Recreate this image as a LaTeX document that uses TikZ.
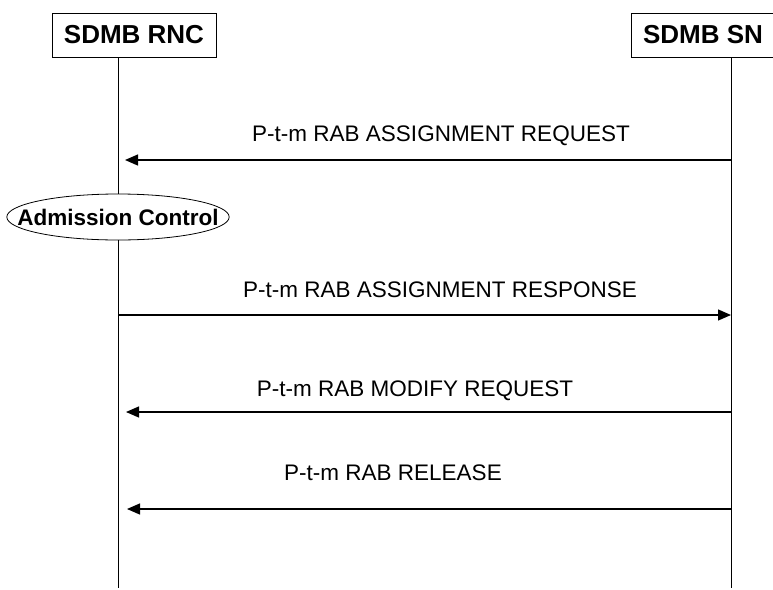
\documentclass[tikz,border=0pt]{standalone}
\usepackage{fontspec}
\setmainfont{Liberation Sans}
\usetikzlibrary{arrows.meta,shapes.geometric}
\tikzset{
  entity/.style={draw, line width=0.8pt, inner xsep=12pt, minimum height=44pt,
    font=\fontsize{26}{30}\selectfont\bfseries},
  action/.style={draw, ellipse, line width=0.8pt, inner xsep=-22pt, inner ysep=6pt,
    minimum width=222pt, minimum height=46pt,
    font=\fontsize{22.5}{27}\selectfont\bfseries},
  lifeline/.style={line width=0.9pt},
  msg/.style={line width=1.3pt, -{Triangle[length=13pt,width=11pt]}},
  msglabel/.style={anchor=base, inner sep=0pt, font=\fontsize{22.5}{27}\selectfont}
}
\begin{document}
\begin{tikzpicture}[x=1pt,y=-1pt]
\useasboundingbox (0,0) rectangle (773,589);

\node[entity] (rnc) at (134,35) {SDMB RNC};
\node[entity] (sn) at (703,35) {SDMB SN};
\node[action] (adm) at (118,217) {Admission Control};

\coordinate (rnc-end) at (118,588);
\coordinate (sn-end) at (731,588);

% lifelines
\draw[lifeline] (rnc.south -| rnc-end) -- (adm.north);
\draw[lifeline] (adm.south) -- (rnc-end);
\draw[lifeline] (sn.south -| sn-end) -- (sn-end);

% message ends
\coordinate (sn-1) at (731,160);
\coordinate (rnc-1) at (125,160);
\coordinate (rnc-2) at (118,315);
\coordinate (sn-2) at (731,315);
\coordinate (sn-3) at (731,412);
\coordinate (rnc-3) at (126,412);
\coordinate (sn-4) at (731,509);
\coordinate (rnc-4) at (127,509);

\draw[msg] (sn-1) -- (rnc-1);
\draw[msg] (rnc-2) -- (sn-2);
\draw[msg] (sn-3) -- (rnc-3);
\draw[msg] (sn-4) -- (rnc-4);

\node[msglabel] (req) at (441,141.5) {P-t-m RAB ASSIGNMENT REQUEST};
\node[msglabel] (resp) at (440,297) {P-t-m RAB ASSIGNMENT RESPONSE};
\node[msglabel] (mod) at (415,396) {P-t-m RAB MODIFY REQUEST};
\node[msglabel] (rel) at (393,480) {P-t-m RAB RELEASE};
\end{tikzpicture}
\end{document}
